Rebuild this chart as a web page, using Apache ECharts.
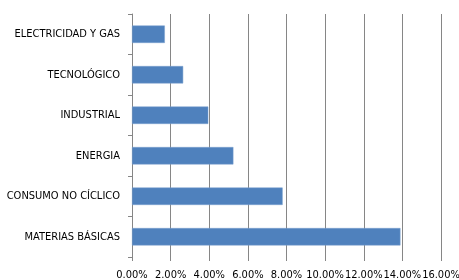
<!DOCTYPE html>
<html>
<head>
<meta charset="utf-8">
<script src="https://cdn.jsdelivr.net/npm/echarts@6/dist/echarts.min.js"></script>
<style>
html,body{margin:0;padding:0;background:#fff;}
#chart{width:459px;height:280px;}
</style>
</head>
<body>
<div id="chart"></div>
<script>
// sectores, de abajo hacia arriba
var sectores = ['MATERIAS BÁSICAS', 'CONSUMO NO CÍCLICO', 'ENERGIA', 'INDUSTRIAL', 'TECNOLÓGICO', 'ELECTRICIDAD Y GAS'];
var pesos = [13.9, 7.8, 5.25, 3.95, 2.65, 1.7];
var ticksX = [0, 2, 4, 6, 8, 10, 12, 14, 16];

var fuente = '"Liberation Sans Narrow", "DejaVu Sans Condensed", sans-serif';

var myChart = echarts.init(document.getElementById('chart'));

var option = {
    animation: false,
    grid: {
        left: 132,
        right: 18,
        top: 14,
        bottom: 23,
        outerBoundsMode: 'none'
    },
    xAxis: {
        type: 'value',
        min: ticksX[0],
        max: ticksX[ticksX.length - 1],
        interval: 2,
        axisLine: { show: false },
        axisTick: { show: true, length: 4, lineStyle: { color: '#868686' } },
        splitLine: { show: true, lineStyle: { color: '#868686', width: 1 } },
        axisLabel: {
            color: '#000',
            fontFamily: fuente,
            fontSize: 11,
            margin: 13,
            showMinLabel: true,
            showMaxLabel: true,
            hideOverlap: false,
            formatter: function (v) { return v.toFixed(2) + '%'; }
        }
    },
    yAxis: {
        type: 'category',
        data: sectores,
        axisLine: { show: true, lineStyle: { color: '#868686' } },
        axisTick: { show: true, length: 4, lineStyle: { color: '#868686' } },
        axisLabel: {
            color: '#000',
            fontFamily: fuente,
            fontSize: 11,
            margin: 12
        }
    },
    series: [{
        type: 'bar',
        data: pesos,
        barWidth: '43%',
        itemStyle: { color: '#4f81bd', borderColor: '#7aa0cf', borderWidth: 0.5 }
    }]
};

myChart.setOption(option);
</script>
</body>
</html>
